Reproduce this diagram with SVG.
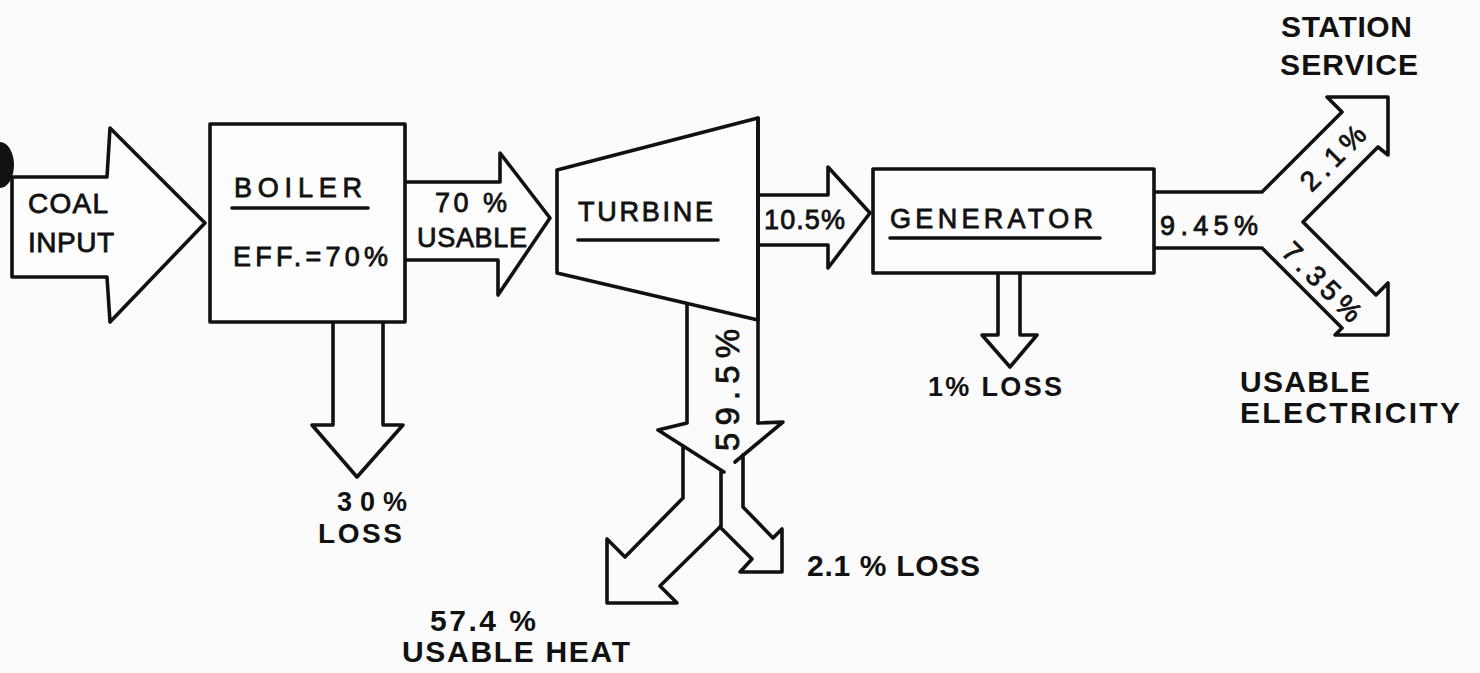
<svg xmlns="http://www.w3.org/2000/svg" width="1480" height="673" viewBox="0 0 1480 673">
  <style>
    .ln { fill: none; stroke: #111; stroke-width: 3.6; stroke-linejoin: round; stroke-linecap: round; }
    .fl { fill: #fdfdfd; stroke: #111; stroke-width: 3.6; stroke-linejoin: round; stroke-linecap: round; }
    .t { font-family: "Liberation Sans", Arial, sans-serif; fill: #111; stroke: #111; stroke-width: 0.8; }
    .b { font-family: "Liberation Sans", Arial, sans-serif; font-weight: bold; fill: #111; }
  </style>
  <rect x="0" y="0" width="1480" height="673" fill="#fbfbfb"/>
  <ellipse cx="0" cy="165" rx="14" ry="23" fill="#111"/>

  <g id="connectors">
    <path id="coal-arrow" class="fl" d="M12,177 H107 L110,128 L205,223 L110,322 L107,277 H12 Z"/>
    <path id="boiler-to-turbine" class="fl" d="M405,182 H500 V153 L550,218 L498,295 V260 H405"/>
    <path id="boiler-loss" class="ln" d="M333,322 V425 H312 L357,477 L403,425 H383 V322"/>
    <path id="turbine-to-generator" class="ln" d="M758,195 H828 V167 L870,213 L828,268 V245 H758"/>
    <path id="turbine-out" class="ln" d="M687,303 V423 L658,430 L724,472 M758,423 L783,422 L735,462"/>
    <path id="usable-heat-branch" class="ln" d="M683,446 V498 L625,557 L607,539 V603 H677 L660,586 L720,527"/>
    <path id="heat-loss-branch" class="ln" d="M743,455 V507 L773,538 L782,529 V572 H740 L752,559 L720,527 M721,472 V527"/>
    <path id="generator-loss" class="ln" d="M998,273 V335 H982 L1010,367 L1037,335 H1020 V273"/>
    <path id="generator-out" class="ln" d="M1154,192 H1262 L1342,112 L1327,97 H1388 V155 L1378,147 L1303,222 L1376,295 L1388,283 V335 H1335 L1342,328 L1262,248 H1154"/>
  </g>

  <g id="coal-input">
    <text class="t" x="28" y="213" font-size="28" textLength="80" lengthAdjust="spacing">COAL</text>
    <text class="t" x="28" y="252" font-size="28" textLength="86" lengthAdjust="spacing">INPUT</text>
  </g>

  <g id="boiler">
    <rect class="fl" x="210" y="124" width="195" height="198"/>
    <text class="t" x="234" y="197" font-size="27" textLength="128" lengthAdjust="spacing">BOILER</text>
    <line class="ln" x1="232" y1="208" x2="368" y2="208"/>
    <text class="t" x="233" y="266" font-size="27" textLength="155" lengthAdjust="spacing">EFF.=70%</text>
  </g>

  <g id="turbine">
    <path class="fl" d="M557,170 L758,118 V320 L557,273 Z"/>
    <line class="ln" x1="758" y1="118" x2="758" y2="423"/>
    <text class="t" x="578" y="221" font-size="27" textLength="135" lengthAdjust="spacing">TURBINE</text>
    <line class="ln" x1="578" y1="240" x2="718" y2="240"/>
  </g>

  <g id="generator">
    <rect class="fl" x="873" y="169" width="281" height="104"/>
    <text class="t" x="890" y="228" font-size="27" textLength="203" lengthAdjust="spacing">GENERATOR</text>
    <line class="ln" x1="890" y1="238" x2="1100" y2="238"/>
  </g>

  <g id="labels">
    <text class="t" x="435" y="212" font-size="27" textLength="72" lengthAdjust="spacing">70 %</text>
    <text class="t" x="417" y="247" font-size="27" textLength="110" lengthAdjust="spacing">USABLE</text>
    <text class="t" x="764" y="229" font-size="27" textLength="81" lengthAdjust="spacing">10.5%</text>
    <text class="t" x="1160" y="235" font-size="27" textLength="98" lengthAdjust="spacing">9.45%</text>
    <text class="t" font-size="28" text-anchor="middle" dominant-baseline="central" textLength="80" lengthAdjust="spacing" transform="translate(1333,158) rotate(-45)">2.1%</text>
    <text class="t" font-size="28" text-anchor="middle" dominant-baseline="central" textLength="100" lengthAdjust="spacing" transform="translate(1322,282) rotate(45)">7.35%</text>
    <text class="t" font-size="33" text-anchor="middle" dominant-baseline="central" textLength="122" lengthAdjust="spacing" transform="translate(727,390) rotate(-90)">59.5%</text>
    <text class="b" x="1281" y="37" font-size="30" textLength="131" lengthAdjust="spacing">STATION</text>
    <text class="b" x="1280" y="75" font-size="30" textLength="138" lengthAdjust="spacing">SERVICE</text>
    <text class="b" x="1240" y="392" font-size="30" textLength="130" lengthAdjust="spacing">USABLE</text>
    <text class="b" x="1240" y="423" font-size="30" textLength="220" lengthAdjust="spacing">ELECTRICITY</text>
    <text class="b" x="928" y="396" font-size="27" textLength="134" lengthAdjust="spacing">1% LOSS</text>
    <text class="b" x="337" y="511" font-size="27" textLength="70" lengthAdjust="spacing">30%</text>
    <text class="b" x="318" y="543" font-size="28" textLength="84" lengthAdjust="spacing">LOSS</text>
    <text class="b" x="807" y="576" font-size="30" textLength="173" lengthAdjust="spacing">2.1 % LOSS</text>
    <text class="b" x="430" y="631" font-size="30" textLength="106" lengthAdjust="spacing">57.4 %</text>
    <text class="b" x="402" y="662" font-size="30" textLength="228" lengthAdjust="spacing">USABLE HEAT</text>
  </g>
</svg>
